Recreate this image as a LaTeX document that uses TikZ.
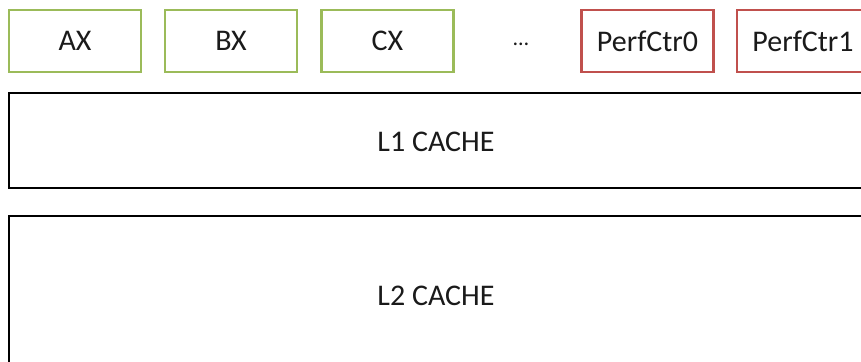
\documentclass[tikz,border=0pt]{standalone}
\usepackage{fontspec}
\setmainfont{Carlito}
\definecolor{regGreen}{HTML}{9BBB59}
\definecolor{ctrRed}{HTML}{C0504D}
\definecolor{txt}{HTML}{1A1A1A}
\begin{document}
\begin{tikzpicture}[x=1pt,y=-1pt,
  every node/.style={font=\fontsize{30}{36}\selectfont, text=txt, inner sep=0pt, outer sep=0pt},
  regbox/.style={draw=regGreen, line width=2.4pt, minimum width=132pt, minimum height=62pt, fill=white},
  ctrbox/.style={draw=ctrRed, line width=2.4pt, minimum width=132pt, minimum height=62pt, fill=white},
  cachebox/.style={draw=black, line width=2.8pt, fill=white}]
\useasboundingbox (0,0) rectangle (861,361);
\clip (0,0) rectangle (861,361);
\fill[white] (0,0) rectangle (861,361);
\node[regbox] (ax) at (75,41) {AX};
\node[regbox] (bx) at (231,41) {BX};
\node[regbox] (cx) at (387.5,41) {CX};
\node (dots) at (521,44) {\fontsize{22}{26}\selectfont …};
\node[ctrbox] (pc0) at (647.5,41) {PerfCtr0};
\node[ctrbox] (pc1) at (803,41) {PerfCtr1};
\node[cachebox, minimum width=900pt, minimum height=95pt, anchor=north west] (l1) at (9,93) {};
\node (l1t) at (436,142) {L1 CACHE};
\node[cachebox, minimum width=900pt, minimum height=200pt, anchor=north west] (l2) at (9,216) {};
\node (l2t) at (436,296) {L2 CACHE};
\end{tikzpicture}
\end{document}
